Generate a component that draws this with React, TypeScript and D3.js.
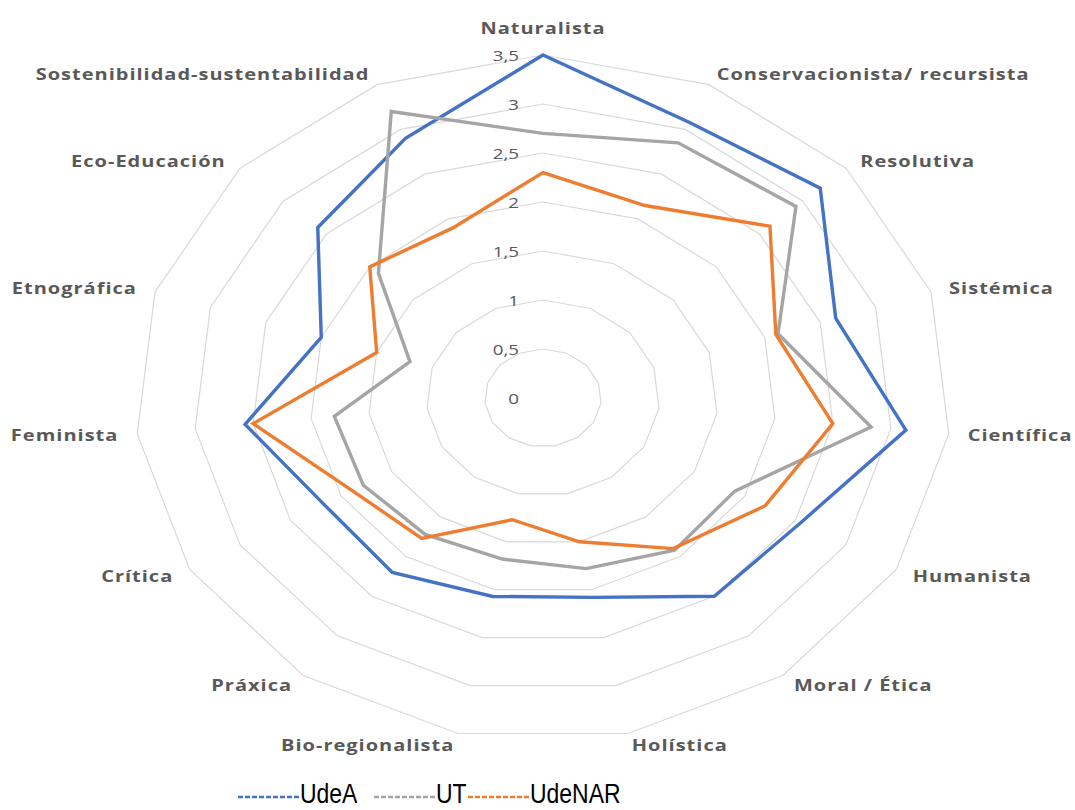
import React from "react";
import * as d3 from "d3";

const categories = [
  "Naturalista",
  "Conservacionista/ recursista",
  "Resolutiva",
  "Sistémica",
  "Científica",
  "Humanista",
  "Moral / Ética",
  "Holística",
  "Bio-regionalista",
  "Práxica",
  "Crítica",
  "Feminista",
  "Etnográfica",
  "Eco-Educación",
  "Sostenibilidad-sustentabilidad",
];

const udeA = [3.5, 3.08, 3.2, 2.64, 3.13, 2.55, 2.5, 2.08, 2.07, 2.2, 2.17, 2.57, 2.0, 2.6, 2.9];
const ut = [2.7, 2.85, 2.92, 2.12, 2.83, 1.9, 1.92, 1.78, 1.68, 1.72, 1.78, 1.8, 1.2, 1.9, 3.2];
const udeNAR = [2.3, 2.15, 2.62, 2.1, 2.5, 2.2, 1.9, 1.5, 1.27, 1.77, 1.89, 2.5, 1.5, 2.0, 1.9];

const seriesNames = ["UdeA", "UT", "UdeNAR"];
const seriesColors = ["#4472C4", "#A5A5A5", "#ED7D31"];
const tickValues = [0, 0.5, 1, 1.5, 2, 2.5, 3, 3.5];

const W = 1075;
const H = 810;
const cx = 543;
const cy = 398;
const RX = 408;
const RY = 343;
const MAXV = 3.5;

export default function App() {
  const n = categories.length;
  const angle = d3
    .scaleLinear()
    .domain([0, n])
    .range([0, 2 * Math.PI]);
  const sx = d3.scaleLinear().domain([0, MAXV]).range([0, RX]);
  const sy = d3.scaleLinear().domain([0, MAXV]).range([0, RY]);

  const pt = (i: number, v: number): [number, number] => {
    const a = angle(i);
    return [cx + sx(v) * Math.sin(a), cy - sy(v) * Math.cos(a)];
  };

  const line = d3
    .line<[number, number]>()
    .x((d) => d[0])
    .y((d) => d[1])
    .curve(d3.curveLinearClosed);

  const data = [udeA, ut, udeNAR];

  const labelFont = "'Open Sans', 'DejaVu Sans', sans-serif";

  return (
    <svg
      width={W}
      height={H}
      style={{ position: "absolute", left: 0, top: 0, background: "#fff" }}
      xmlns="http://www.w3.org/2000/svg"
    >
      <rect x={0} y={0} width={W} height={H} fill="#fff" />
      {/* grid rings */}
      {tickValues
        .filter((t) => t > 0)
        .map((t) => (
          <path
            key={"ring" + t}
            d={line(categories.map((_, i) => pt(i, t))) || ""}
            fill="none"
            stroke="#D9D9D9"
            strokeWidth={1.2}
          />
        ))}
      {/* tick labels */}
      {tickValues.map((t) => (
        <text
          key={"tick" + t}
          transform={`translate(${cx - 24},${cy - sy(t)}) scale(1.25,1)`}
          textAnchor="end"
          dominantBaseline="central"
          fontFamily={labelFont}
          fontSize={15}
          fill="#595959"
        >
          {String(t).replace(".", ",")}
        </text>
      ))}
      {/* series */}
      {data.map((vals, si) => (
        <path
          key={"s" + si}
          d={line(vals.map((v, i) => pt(i, v))) || ""}
          fill="none"
          stroke={seriesColors[si]}
          strokeWidth={3.4}
          strokeLinejoin="miter"
        />
      ))}
      {/* category labels */}
      {categories.map((c, i) => {
        const a = angle(i);
        const s = Math.sin(a);
        const co = Math.cos(a);
        const [vx, vy] = pt(i, MAXV);
        let x = vx;
        let y = vy;
        let anchor = "middle";
        if (Math.abs(s) < 0.01) {
          y = vy - 27 * co;
        } else {
          x = vx + 19 * s;
          y = vy - 12 * co;
          anchor = s > 0 ? "start" : "end";
        }
        return (
          <text
            key={"cat" + i}
            transform={`translate(${x},${y}) scale(1.25,1)`}
            textAnchor={anchor}
            dominantBaseline="central"
            fontFamily={labelFont}
            fontWeight="bold"
            fontSize={16}
            letterSpacing={0.8}
            fill="#595959"
          >
            {c}
          </text>
        );
      })}
      {/* legend */}
      <g>
        {(() => {
          let x = 238;
          const items: React.ReactNode[] = [];
          const widths = [58, 30, 92];
          seriesNames.forEach((name, si) => {
            items.push(
              <line
                key={"ld" + si}
                x1={x}
                x2={x + 62}
                y1={797}
                y2={797}
                stroke={seriesColors[si]}
                strokeWidth={2.5}
                strokeDasharray="5,2"
              />
            );
            items.push(
              <text
                key={"lt" + si}
                transform={`translate(${x + 62},803) scale(0.82,1)`}
                fontFamily="'Liberation Sans', Arial, sans-serif"
                fontSize={28}
                fill="#000"
              >
                {name}
              </text>
            );
            x += 62 + widths[si] + (si === 0 ? 16 : 2);
          });
          return items;
        })()}
      </g>
    </svg>
  );
}
